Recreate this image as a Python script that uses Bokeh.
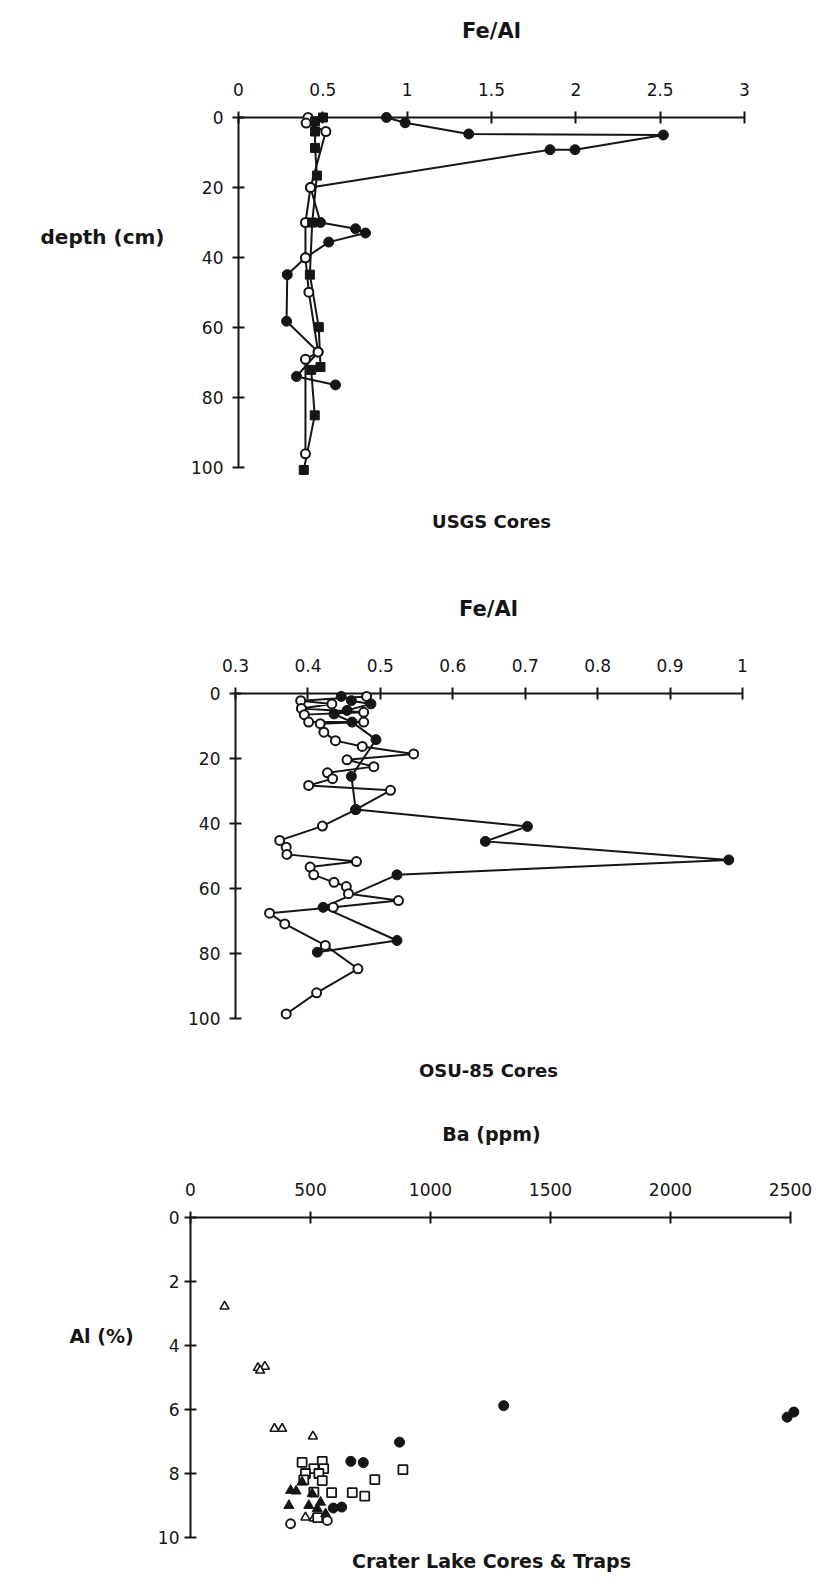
from bokeh.plotting import figure
from bokeh.models import Range1d, FixedTicker, ColumnDataSource
from bokeh.layouts import column
from bokeh.core.properties import value
from bokeh.embed import file_html
from bokeh.resources import INLINE

# ---------------- data ----------------
# Panel 1 : USGS cores, Fe/Al vs depth (cm)
usgs_x_ticks = [0, 0.5, 1, 1.5, 2, 2.5, 3]
usgs_x_labels = ["0", "0.5", "1", "1.5", "2", "2.5", "3"]
depth_ticks = [0, 20, 40, 60, 80, 100]
depth_labels = ["0", "20", "40", "60", "80", "100"]

usgs_filled_feal = [0.877, 0.988, 1.365, 2.519, 1.995, 1.847, 0.427, 0.486, 0.694, 0.753, 0.535, 0.397, 0.289, 0.285, 0.472, 0.344, 0.575]
usgs_filled_depth = [0, 1.5, 4.7, 5.0, 9.2, 9.2, 20, 30, 31.8, 33, 35.6, 40.1, 44.9, 58.2, 67, 74, 76.4]
usgs_open_feal = [0.412, 0.401, 0.518, 0.427, 0.397, 0.397, 0.417, 0.472, 0.397, 0.397]
usgs_open_depth = [0, 1.6, 4, 20, 30, 40.1, 49.9, 67, 69.1, 96.1]
usgs_square_feal = [0.501, 0.454, 0.454, 0.454, 0.465, 0.437, 0.423, 0.476, 0.486, 0.431, 0.452, 0.387]
usgs_square_depth = [0, 1.1, 4, 8.7, 16.6, 30, 44.9, 59.9, 71.3, 72.1, 85.1, 100.7]

# Panel 2 : OSU-85 cores, Fe/Al vs depth (cm)
osu_x_ticks = [0.3, 0.4, 0.5, 0.6, 0.7, 0.8, 0.9, 1.0]
osu_x_labels = ["0.3", "0.4", "0.5", "0.6", "0.7", "0.8", "0.9", "1"]

osu_filled_feal = [0.446, 0.460, 0.487, 0.454, 0.436, 0.461, 0.494, 0.460, 0.466, 0.703, 0.645, 0.981, 0.523, 0.421, 0.523, 0.413]
osu_filled_depth = [0.9, 2.2, 3.2, 5.2, 6.3, 8.8, 14.2, 25.5, 35.7, 40.9, 45.5, 51.2, 55.8, 65.8, 76.0, 79.6]
osu_open_feal = [0.481, 0.390, 0.433, 0.391, 0.477, 0.395, 0.401, 0.477, 0.417, 0.422, 0.438, 0.475, 0.546, 0.454,
                 0.491, 0.427, 0.434, 0.401, 0.514, 0.466, 0.420, 0.361, 0.370, 0.371, 0.467, 0.403, 0.408, 0.436,
                 0.453, 0.456, 0.525, 0.435, 0.347, 0.368, 0.424, 0.469, 0.412, 0.370]
osu_open_depth = [0.9, 2.2, 3.2, 4.6, 5.8, 6.5, 8.8, 8.8, 9.3, 11.9, 14.5, 16.3, 18.6, 20.4,
                  22.5, 24.4, 26.2, 28.3, 29.8, 35.7, 40.8, 45.2, 47.3, 49.5, 51.7, 53.4, 55.8, 58.1,
                  59.4, 61.6, 63.7, 65.8, 67.6, 70.9, 77.5, 84.7, 92.1, 98.6]

# Panel 3 : Crater Lake cores & traps, Al (%) vs Ba (ppm)
ba_ticks = [0, 500, 1000, 1500, 2000, 2500]
ba_labels = ["0", "500", "1000", "1500", "2000", "2500"]
al_ticks = [0, 2, 4, 6, 8, 10]
al_labels = ["0", "2", "4", "6", "8", "10"]

open_tri_ba = [142, 281, 310, 290, 350, 382, 510, 479, 514]
open_tri_al = [2.78, 4.70, 4.66, 4.78, 6.60, 6.60, 6.84, 9.37, 9.40]
filled_circ_ba = [1305, 2486, 2514, 871, 668, 720, 595, 630]
filled_circ_al = [5.88, 6.24, 6.08, 7.02, 7.62, 7.66, 9.08, 9.05]
open_sq_ba = [885, 768, 674, 726, 588, 465, 549, 514, 555, 479, 535, 472, 549, 514, 530]
open_sq_al = [7.88, 8.19, 8.60, 8.71, 8.60, 7.65, 7.62, 7.85, 7.85, 8.00, 8.00, 8.20, 8.22, 8.58, 9.38]
filled_tri_ba = [465, 417, 507, 410, 493, 528, 563, 542, 440]
filled_tri_al = [8.27, 8.53, 8.63, 9.00, 9.00, 9.10, 9.26, 8.90, 8.55]
open_circ_ba = [417, 570]
open_circ_al = [9.57, 9.47]

INK = "#151515"
FONT = "DejaVu Sans"
PAGE_W = 820


class Panel:
    """A figure whose frame fills the whole canvas; the axes sit at fixed data locations."""

    def __init__(self, top, height, xv, xp, yv, yp, xticks, xlabels, yticks, ylabels):
        # xv/yv: two data values, xp/yp: their pixel positions on the page
        self.top = top
        self.sx = (xp[1] - xp[0]) / (xv[1] - xv[0])
        self.sy = (yp[1] - yp[0]) / (yv[1] - yv[0])
        self.x0, self.px0 = xv[0], xp[0]
        self.y0, self.py0 = yv[0], yp[0] - top
        x_start, x_end = self.dx(0), self.dx(PAGE_W)
        y_top, y_bottom = self.dy(top), self.dy(top + height)
        p = figure(width=PAGE_W, height=height, min_border=0,
                   x_range=Range1d(x_start, x_end), y_range=Range1d(y_bottom, y_top),
                   x_axis_location="above", y_axis_location="left",
                   toolbar_location=None, output_backend="svg", tools="")
        p.grid.visible = False
        p.outline_line_color = None
        p.background_fill_color = "white"
        p.border_fill_color = "white"
        for ax, ticks, labels in [(p.xaxis[0], xticks, xlabels), (p.yaxis[0], yticks, ylabels)]:
            ax.ticker = FixedTicker(ticks=ticks)
            ax.major_label_overrides = {t: l for t, l in zip(ticks, labels)}
            ax.axis_line_width = 2
            ax.axis_line_color = INK
            ax.major_tick_line_width = 2
            ax.major_tick_line_color = INK
            ax.major_tick_in = 6
            ax.major_tick_out = 6
            ax.minor_tick_line_color = None
            ax.major_label_text_font = FONT
            ax.major_label_text_font_size = "17px"
            ax.major_label_text_color = INK
        p.xaxis[0].fixed_location = yticks[0]
        p.xaxis[0].bounds = (xticks[0], xticks[-1])
        p.yaxis[0].fixed_location = xticks[0]
        p.yaxis[0].bounds = (yticks[0], yticks[-1])
        p.xaxis[0].major_label_standoff = 16
        self.p = p

    def dx(self, px):
        return self.x0 + (px - self.px0) / self.sx

    def dy(self, py):
        return self.y0 + (py - self.top - self.py0) / self.sy

    def text(self, px, py, text, size):
        src = ColumnDataSource(dict(x=[self.dx(px)], y=[self.dy(py)], t=[text]))
        self.p.text(x="x", y="y", text="t", source=src, text_align="center", text_baseline="middle",
                    text_font=value(FONT), text_font_size=value(size), text_font_style="bold",
                    text_color=INK, level="overlay")

    def path(self, x, y):
        self.p.line(x, y, line_width=2, color=INK, level="overlay")

    def filled(self, x, y, marker="circle", size=10):
        self.p.scatter(x, y, marker=marker, size=size, fill_color=INK, line_color=INK, level="overlay")

    def hollow(self, x, y, marker="circle", size=9, lw=2.0):
        self.p.scatter(x, y, marker=marker, size=size, fill_color="white", line_color=INK,
                       line_width=lw, level="overlay")


# ---------------- panel 1 ----------------
a = Panel(0, 560, (0, 3), (238, 744), (0, 100), (117, 467),
          usgs_x_ticks, usgs_x_labels, depth_ticks, depth_labels)
a.p.yaxis[0].major_label_standoff = 9
a.path(usgs_filled_feal, usgs_filled_depth)
a.path(usgs_open_feal, usgs_open_depth)
a.path(usgs_square_feal, usgs_square_depth)
a.filled(usgs_filled_feal, usgs_filled_depth)
a.hollow(usgs_open_feal, usgs_open_depth)
a.filled(usgs_square_feal, usgs_square_depth, marker="square", size=9)
a.text(491, 30, "Fe/Al", "21px")
a.text(102, 236, "depth (cm)", "20px")
a.text(491, 521, "USGS Cores", "18px")

# ---------------- panel 2 ----------------
b = Panel(560, 540, (0.3, 1.0), (235, 742), (0, 100), (693, 1018),
          osu_x_ticks, osu_x_labels, depth_ticks, depth_labels)
b.p.yaxis[0].major_label_standoff = 9
b.path(osu_open_feal, osu_open_depth)
b.path(osu_filled_feal, osu_filled_depth)
b.hollow(osu_open_feal, osu_open_depth)
b.filled(osu_filled_feal, osu_filled_depth)
b.text(488, 608, "Fe/Al", "21px")
b.text(488, 1070, "OSU-85 Cores", "18px")

# ---------------- panel 3 ----------------
c = Panel(1100, 496, (0, 2500), (190, 790), (0, 10), (1217, 1537),
          ba_ticks, ba_labels, al_ticks, al_labels)
c.p.yaxis[0].major_label_standoff = 5
c.hollow(open_tri_ba, open_tri_al, marker="triangle", size=9, lw=1.6)
c.hollow(open_sq_ba, open_sq_al, marker="square", size=9, lw=1.8)
c.hollow(open_circ_ba, open_circ_al, marker="circle", size=9, lw=1.8)
c.filled(filled_tri_ba, filled_tri_al, marker="triangle", size=10)
c.filled(filled_circ_ba, filled_circ_al, marker="circle", size=10)
c.text(491, 1133, "Ba (ppm)", "19px")
c.text(101, 1335, "Al (%)", "19px")
c.text(491, 1560, "Crater Lake Cores & Traps", "19px")

layout = column(a.p, b.p, c.p, spacing=0)
open("out.html", "w").write(file_html(layout, INLINE))
